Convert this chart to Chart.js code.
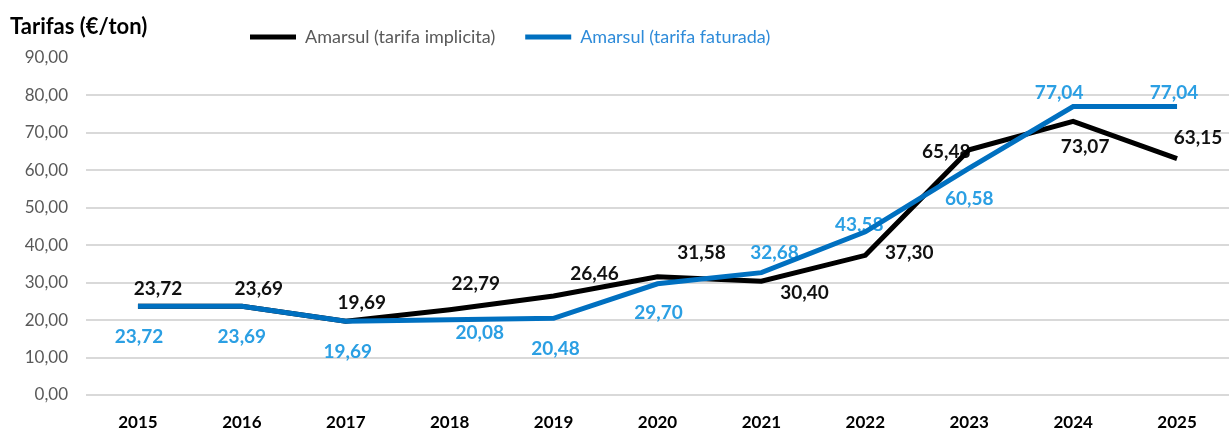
<!DOCTYPE html>
<html><head><meta charset="utf-8">
<script src="https://cdn.jsdelivr.net/npm/chart.js@4.4.1/dist/chart.umd.min.js"></script>
<style>html,body{margin:0;padding:0;background:#fff;overflow:hidden}#wrap{width:1229px;height:430px;position:relative}</style>
</head><body><div id="wrap"><canvas id="c"></canvas></div>
<script>
// ---- data ----
const years = ['2015','2016','2017','2018','2019','2020','2021','2022','2023','2024','2025'];
const tarifaImplicita = [23.72, 23.69, 19.69, 22.79, 26.46, 31.58, 30.40, 37.30, 65.48, 73.07, 63.15];
const tarifaFaturada  = [23.72, 23.69, 19.69, 20.08, 20.48, 29.70, 32.68, 43.58, 60.58, 77.04, 77.04];
const yTicks = [0, 10, 20, 30, 40, 50, 60, 70, 80, 90];
const seriesNames = ['Amarsul (tarifa implicita)', 'Amarsul (tarifa faturada)'];
const chartTitle = 'Tarifas (€/ton)';

// ---- styling (label placement relative to each point, px) ----
const FONT = 'Lato, "Open Sans", sans-serif';
const labelStyle = [
  { color: '#111111', offsets: [[20,-17],[17,-17],[16,-18],[26,-26],[41,-22],[44,-24],[43,12],[44,-2],[-23,2],[12,25],[21,-21]] },
  { color: '#2B9FE3', offsets: [[1,31],[0,31],[2,31],[30,13],[2,31],[1,29],[13,-20],[-6,-7],[0,31],[-14,-14],[-3,-14]] }
];
const fmt = v => v.toFixed(2).replace('.', ',');

const dataLabels = {
  id: 'dataLabels',
  beforeDatasetsDraw(chart) {
    const ctx = chart.ctx;
    ctx.save();
    ctx.font = 'bold 19px ' + FONT;
    ctx.textAlign = 'center';
    ctx.textBaseline = 'middle';
    chart.data.datasets.forEach((ds, di) => {
      const meta = chart.getDatasetMeta(di);
      const st = labelStyle[di];
      ctx.fillStyle = st.color;
      meta.data.forEach((pt, i) => {
        const o = st.offsets[i];
        ctx.fillText(fmt(ds.data[i]), pt.x + o[0], pt.y + o[1]);
      });
    });
    ctx.restore();
  }
};

const titleAndLegendPlacement = {
  id: 'placement',
  afterLayout(chart) {
    const lg = chart.legend;
    const dx = 220 - lg.left;
    lg.left += dx; lg.right += dx;
    lg.top = -2; lg.bottom = 56;
    lg.height = lg.bottom - lg.top;
    lg.width = lg.right - lg.left;
  },
  afterDraw(chart) {
    const ctx = chart.ctx;
    ctx.save();
    ctx.font = 'bold 22px ' + FONT;
    ctx.fillStyle = '#000';
    ctx.textAlign = 'left';
    ctx.textBaseline = 'middle';
    ctx.fillText(chartTitle, 10, 27);
    ctx.restore();
  }
};

new Chart(document.getElementById('c'), {
  type: 'line',
  data: {
    labels: years,
    datasets: [
      { label: seriesNames[0], data: tarifaImplicita, borderColor: '#000000', backgroundColor: '#000000',
        borderWidth: 5, pointRadius: 0, tension: 0, order: 1, legendFont: '#595959' },
      { label: seriesNames[1], data: tarifaFaturada, borderColor: '#0070C0', backgroundColor: '#0070C0',
        borderWidth: 5, pointRadius: 0, tension: 0, order: 0, legendFont: '#2E8BD9' }
    ]
  },
  options: {
    responsive: true,
    maintainAspectRatio: false,
    animation: false,
    layout: { padding: { top: 57, left: 0, right: 0, bottom: 0 } },
    plugins: {
      tooltip: { enabled: false },
      legend: {
        display: true,
        position: 'top',
        align: 'start',
        maxHeight: 1,
        labels: {
          usePointStyle: true,
          pointStyleWidth: 46,
          padding: 30,
          font: { family: FONT, size: 18 },
          generateLabels(chart) {
            return chart.data.datasets.map((ds, i) => ({
              text: ds.label,
              fillStyle: ds.borderColor,
              strokeStyle: ds.borderColor,
              lineWidth: 5,
              pointStyle: 'line',
              fontColor: ds.legendFont,
              hidden: false,
              datasetIndex: i
            }));
          }
        }
      }
    },
    scales: {
      x: {
        offset: true,
        grid: { display: false, drawTicks: false },
        border: { display: false },
        afterFit(scale) { scale.height = 35; },
        ticks: { color: '#000', font: { family: FONT, size: 17, weight: 'bold' }, padding: 17, maxRotation: 0 }
      },
      y: {
        min: 0, max: 90,
        afterBuildTicks(scale) { scale.ticks = yTicks.map(v => ({ value: v })); },
        afterFit(scale) { scale.width = 86; },
        grid: {
          drawTicks: false,
          lineWidth: 2,
          color: c => (c.tick && c.tick.value === 90) ? 'rgba(0,0,0,0)' : '#D9D9D9'
        },
        border: { display: false },
        ticks: { color: '#595959', font: { family: FONT, size: 17 }, padding: 18, callback: v => fmt(v) }
      }
    }
  },
  plugins: [dataLabels, titleAndLegendPlacement]
});
</script>
</body></html>
